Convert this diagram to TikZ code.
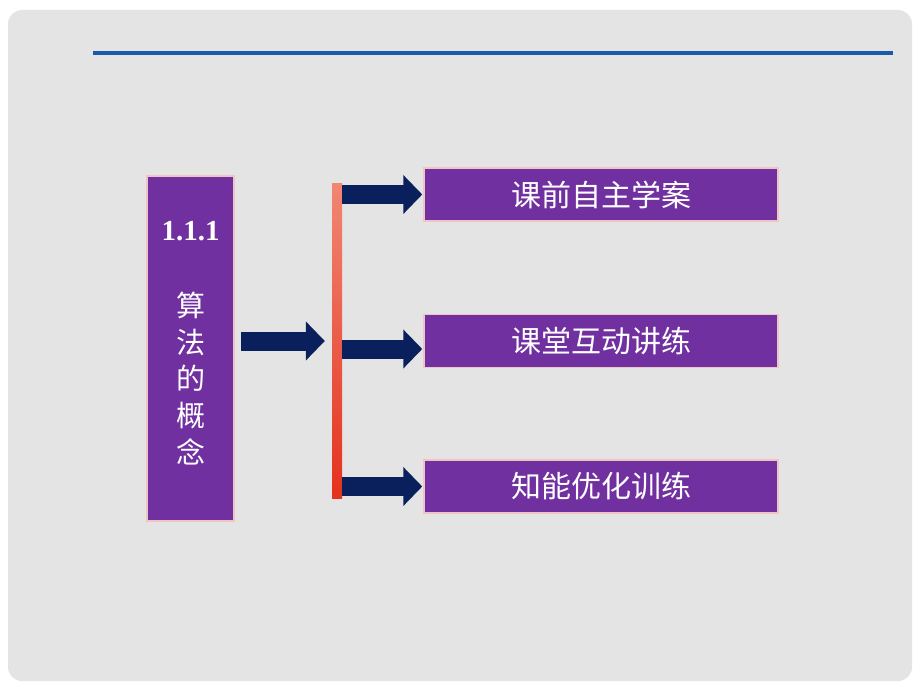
\documentclass[tikz,border=0pt]{standalone}
\usepackage{fontspec}
\setmainfont{Liberation Serif}
\newfontfamily\cjk{Noto Sans CJK SC}
\usepackage{tikz}
\usetikzlibrary{arrows.meta}
\definecolor{slidegray}{RGB}{228,228,228}
\definecolor{rulerblue}{RGB}{25,90,170}
\definecolor{boxpurple}{RGB}{112,48,160}
\definecolor{glowpink}{RGB}{240,196,196}
\definecolor{arrownavy}{RGB}{10,32,92}
\definecolor{bartop}{RGB}{240,135,115}
\definecolor{barbottom}{RGB}{228,50,30}
\tikzstyle{block} = [rectangle, sharp corners, draw=glowpink, line width=1.5pt,
                     fill=boxpurple, text=white, inner sep=0pt]
\tikzstyle{subblock} = [block, minimum width=354pt, minimum height=53pt,
                     font=\cjk\fontsize{30}{30}\selectfont]
\tikzstyle{fatarrow} = [draw=arrownavy, line width=19pt,
                     -{Triangle[length=19pt,width=38pt]}]

\begin{document}
\begin{tikzpicture}[x=1pt,y=-1pt]
\useasboundingbox (0,0) rectangle (920,690);
%Slide
\fill[white] (0,0) rectangle (920,690);
\fill[slidegray, rounded corners=14pt] (8,10) rectangle (912,681);
\draw[rulerblue, line width=4pt] (93,53) -- (893,53);

%Section box
\node[block, minimum width=87pt, minimum height=345pt] at (190.5,348.5) (concept){};
\node[text=white, font=\bfseries\fontsize{29}{29}\selectfont] at (190.5,231) (num){1.1.1};
\node[text=white, align=center, font=\cjk\fontsize{29}{36.75}\selectfont] at (190.5,378.5) (title){算\\法\\的\\概\\念};

%Parts
\node[subblock] at (601,194.5) (sub1){课前自主学案};
\node[subblock] at (601,341) (sub2){课堂互动讲练};
\node[subblock] at (601,486.5) (sub3){知能优化训练};

%Bar
\node[rectangle, inner sep=0pt, minimum width=10pt, minimum height=315pt,
      top color=bartop, bottom color=barbottom] at (337,340.5) (bar){};

%Arrows
\draw[fatarrow] ([xshift=6pt,yshift=7.5pt]concept.east) -- ([xshift=-7pt,yshift=7.5pt]concept.east -| bar.west);
\draw[fatarrow] (bar.east |- sub1.west) -- ([xshift=-1pt]sub1.west);
\draw[fatarrow] ([yshift=-8pt]bar.east |- sub2.west) -- ([xshift=-1pt,yshift=-8pt]sub2.west);
\draw[fatarrow] (bar.east |- sub3.west) -- ([xshift=-1pt]sub3.west);
\end{tikzpicture}
\end{document}
